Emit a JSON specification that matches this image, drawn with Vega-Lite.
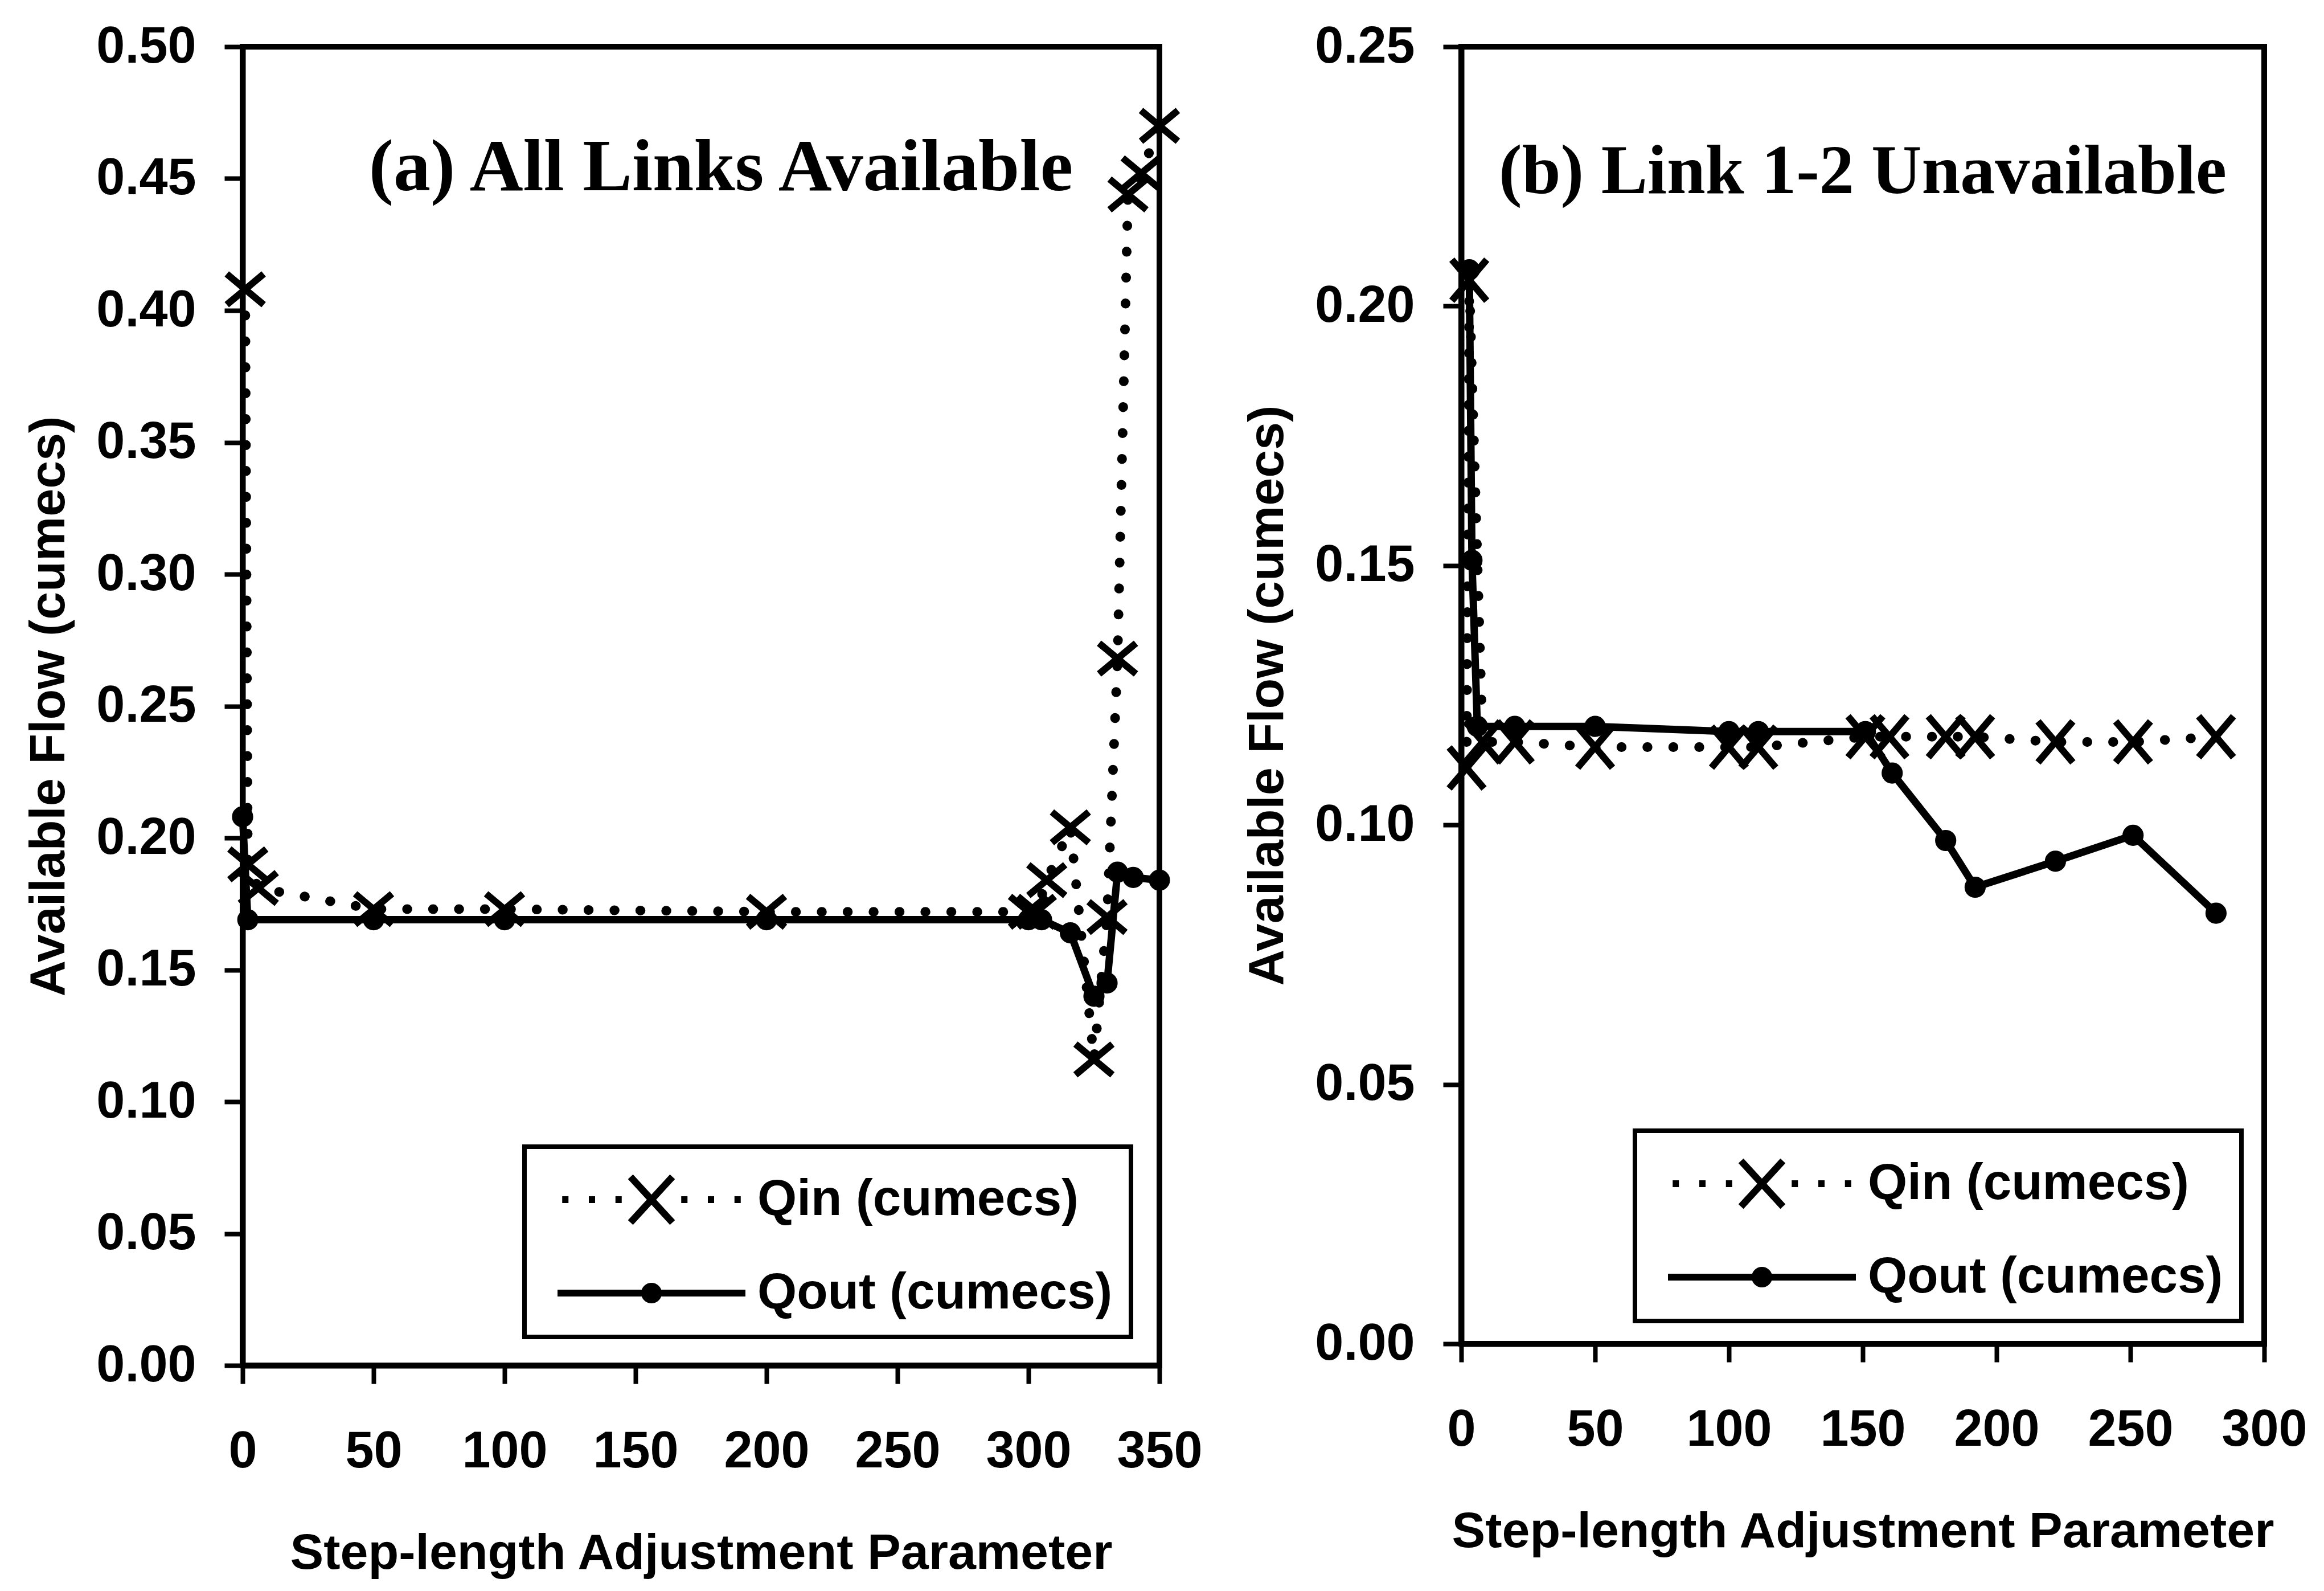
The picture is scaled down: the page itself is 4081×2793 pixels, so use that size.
{
  "$schema": "https://vega.github.io/schema/vega-lite/v6.json",
  "background": "white",
  "padding": {"left": 37, "top": 32, "right": 10, "bottom": 5},
  "spacing": -29,
  "config": {
    "view": {"stroke": "black", "strokeWidth": 10},
    "font": "Liberation Sans",
    "axis": {
      "domainColor": "black", "domainWidth": 10,
      "tickColor": "black", "tickWidth": 8, "tickSize": 32,
      "labelFont": "Liberation Sans", "labelFontWeight": "bold", "labelFontSize": 90, "labelColor": "black", "labelLimit": 0, "labelOverlap": false, "labelFlush": false,
      "titleFont": "Liberation Sans", "titleFontWeight": "bold", "titleFontSize": 88, "titleColor": "black", "titleLimit": 0,
      "grid": false, "labelPadding": 45
    },
    "legend": {"strokeColor": "black", "strokeWidth": 8, "fillColor": "white"}
  },
  "resolve": {"scale": {"shape": "independent"}, "legend": {"shape": "independent"}},
  "datasets": {
    "a": [
      {"step": 1, "flow": 0.408, "series": "Qin (cumecs)"},
      {"step": 2, "flow": 0.190, "series": "Qin (cumecs)"},
      {"step": 6, "flow": 0.181, "series": "Qin (cumecs)"},
      {"step": 50, "flow": 0.173, "series": "Qin (cumecs)"},
      {"step": 100, "flow": 0.173, "series": "Qin (cumecs)"},
      {"step": 200, "flow": 0.172, "series": "Qin (cumecs)"},
      {"step": 300, "flow": 0.172, "series": "Qin (cumecs)"},
      {"step": 303, "flow": 0.172, "series": "Qin (cumecs)"},
      {"step": 307, "flow": 0.184, "series": "Qin (cumecs)"},
      {"step": 316, "flow": 0.204, "series": "Qin (cumecs)"},
      {"step": 325, "flow": 0.116, "series": "Qin (cumecs)"},
      {"step": 330, "flow": 0.170, "series": "Qin (cumecs)"},
      {"step": 334, "flow": 0.268, "series": "Qin (cumecs)"},
      {"step": 338, "flow": 0.444, "series": "Qin (cumecs)"},
      {"step": 343, "flow": 0.452, "series": "Qin (cumecs)"},
      {"step": 350, "flow": 0.470, "series": "Qin (cumecs)"},
      {"step": 0, "flow": 0.208, "series": "Qout (cumecs)"},
      {"step": 2, "flow": 0.169, "series": "Qout (cumecs)"},
      {"step": 50, "flow": 0.169, "series": "Qout (cumecs)"},
      {"step": 100, "flow": 0.169, "series": "Qout (cumecs)"},
      {"step": 200, "flow": 0.169, "series": "Qout (cumecs)"},
      {"step": 300, "flow": 0.169, "series": "Qout (cumecs)"},
      {"step": 305, "flow": 0.169, "series": "Qout (cumecs)"},
      {"step": 316, "flow": 0.164, "series": "Qout (cumecs)"},
      {"step": 325, "flow": 0.140, "series": "Qout (cumecs)"},
      {"step": 330, "flow": 0.145, "series": "Qout (cumecs)"},
      {"step": 334, "flow": 0.187, "series": "Qout (cumecs)"},
      {"step": 340, "flow": 0.185, "series": "Qout (cumecs)"},
      {"step": 350, "flow": 0.184, "series": "Qout (cumecs)"}
    ],
    "b": [
      {"step": 2, "flow": 0.111, "series": "Qin (cumecs)"},
      {"step": 3, "flow": 0.205, "series": "Qin (cumecs)"},
      {"step": 8, "flow": 0.116, "series": "Qin (cumecs)"},
      {"step": 20, "flow": 0.116, "series": "Qin (cumecs)"},
      {"step": 50, "flow": 0.115, "series": "Qin (cumecs)"},
      {"step": 100, "flow": 0.115, "series": "Qin (cumecs)"},
      {"step": 111, "flow": 0.115, "series": "Qin (cumecs)"},
      {"step": 151, "flow": 0.117, "series": "Qin (cumecs)"},
      {"step": 160, "flow": 0.117, "series": "Qin (cumecs)"},
      {"step": 181, "flow": 0.117, "series": "Qin (cumecs)"},
      {"step": 192, "flow": 0.117, "series": "Qin (cumecs)"},
      {"step": 222, "flow": 0.116, "series": "Qin (cumecs)"},
      {"step": 251, "flow": 0.116, "series": "Qin (cumecs)"},
      {"step": 282, "flow": 0.117, "series": "Qin (cumecs)"},
      {"step": 3, "flow": 0.207, "series": "Qout (cumecs)"},
      {"step": 4, "flow": 0.151, "series": "Qout (cumecs)"},
      {"step": 6, "flow": 0.119, "series": "Qout (cumecs)"},
      {"step": 20, "flow": 0.119, "series": "Qout (cumecs)"},
      {"step": 50, "flow": 0.119, "series": "Qout (cumecs)"},
      {"step": 100, "flow": 0.118, "series": "Qout (cumecs)"},
      {"step": 111, "flow": 0.118, "series": "Qout (cumecs)"},
      {"step": 151, "flow": 0.118, "series": "Qout (cumecs)"},
      {"step": 161, "flow": 0.110, "series": "Qout (cumecs)"},
      {"step": 181, "flow": 0.097, "series": "Qout (cumecs)"},
      {"step": 192, "flow": 0.088, "series": "Qout (cumecs)"},
      {"step": 222, "flow": 0.093, "series": "Qout (cumecs)"},
      {"step": 251, "flow": 0.098, "series": "Qout (cumecs)"},
      {"step": 282, "flow": 0.083, "series": "Qout (cumecs)"}
    ]
  },
  "hconcat": [
    {
      "width": 1610,
      "height": 2315,
      "data": {"name": "a"},
      "title": {"text": "(a) All Links Available", "font": "Liberation Serif", "fontWeight": "bold", "fontSize": 130, "color": "black", "anchor": "middle", "frame": "group", "offset": -427, "dx": 35, "baseline": "alphabetic"},
      "encoding": {
        "x": {"field": "step", "type": "quantitative", "scale": {"domain": [0, 350], "nice": false, "zero": false},
              "axis": {"values": [0, 50, 100, 150, 200, 250, 300, 350], "title": "Step-length Adjustment Parameter", "labelPadding": 75, "titlePadding": 90}},
        "y": {"field": "flow", "type": "quantitative", "scale": {"domain": [0, 0.5], "nice": false},
              "axis": {"values": [0, 0.05, 0.1, 0.15, 0.2, 0.25, 0.3, 0.35, 0.4, 0.45, 0.5], "format": ".2f", "title": "Available Flow (cumecs)", "labelPadding": 50, "titlePadding": 96}}
      },
      "resolve": {"scale": {"shape": "independent"}, "legend": {"shape": "independent"}},
      "layer": [
        {"transform": [{"filter": "datum.series === 'Qin (cumecs)'"}],
         "mark": {"type": "line", "color": "black", "strokeWidth": 17, "strokeDash": [0.5, 45], "strokeCap": "round"}},
        {"transform": [{"filter": "datum.series === 'Qout (cumecs)'"}],
         "mark": {"type": "line", "color": "black", "strokeWidth": 13}},
        {"mark": {"type": "point", "filled": true, "color": "black", "stroke": "black", "strokeWidth": 12, "size": 5184, "opacity": 1},
         "encoding": {
           "shape": {"field": "series", "type": "nominal", "legend": null,
             "scale": {"domain": ["Qin (cumecs)", "Qout (cumecs)"], "range": ["M-0.9,-0.75L0.9,0.75M-0.9,0.75L0.9,-0.75", "M0.35,0A0.35,0.35,0,1,1,-0.35,0A0.35,0.35,0,1,1,0.35,0Z"]}
           }
         }},
        {"mark": {"type": "point", "filled": false, "color": "black", "strokeWidth": 12, "size": 12100, "opacity": 0},
         "encoding": {
           "shape": {"field": "series", "type": "nominal",
             "scale": {"domain": ["Qin (cumecs)", "Qout (cumecs)"], "range": ["M-2.85,0L-2.65,0M-2.0,0L-1.8,0M-1.15,0L-0.95,0M0.95,0L1.15,0M1.8,0L2.0,0M2.65,0L2.85,0M-0.67,-0.73L0.67,0.73M-0.67,0.73L0.67,-0.73", "M-3,0L3,0M0.22,0A0.22,0.22,0,1,1,-0.22,0A0.22,0.22,0,1,1,0.22,0ZM0.08,0A0.08,0.08,0,1,1,-0.08,0A0.08,0.08,0,1,1,0.08,0Z"]},
             "legend": {"title": null, "orient": "bottom-right", "offset": 50, "padding": 32,
               "symbolSize": 12100, "symbolStrokeWidth": 12, "symbolOpacity": 1, "symbolStrokeColor": "black",
               "symbolOffset": 130, "labelOffset": 125, "rowPadding": 38,
               "labelFont": "Liberation Sans", "labelFontWeight": "bold", "labelFontSize": 89, "labelColor": "black", "labelLimit": 0}
           }
         }}
      ]
    },
    {
      "width": 1410,
      "height": 2277,
      "data": {"name": "b"},
      "title": {"text": "(b) Link 1-2 Unavailable", "font": "Liberation Serif", "fontWeight": "bold", "fontSize": 122, "color": "black", "anchor": "middle", "frame": "group", "offset": -424, "baseline": "alphabetic"},
      "encoding": {
        "x": {"field": "step", "type": "quantitative", "scale": {"domain": [0, 300], "nice": false, "zero": false},
              "axis": {"values": [0, 50, 100, 150, 200, 250, 300], "title": "Step-length Adjustment Parameter", "labelPadding": 75, "titlePadding": 90}},
        "y": {"field": "flow", "type": "quantitative", "scale": {"domain": [0, 0.25], "nice": false},
              "axis": {"values": [0, 0.05, 0.1, 0.15, 0.2, 0.25], "format": ".2f", "title": "Available Flow (cumecs)", "labelPadding": 50, "titlePadding": 96}}
      },
      "resolve": {"scale": {"shape": "independent"}, "legend": {"shape": "independent"}},
      "layer": [
        {"transform": [{"filter": "datum.series === 'Qin (cumecs)'"}],
         "mark": {"type": "line", "color": "black", "strokeWidth": 17, "strokeDash": [0.5, 45], "strokeCap": "round"}},
        {"transform": [{"filter": "datum.series === 'Qout (cumecs)'"}],
         "mark": {"type": "line", "color": "black", "strokeWidth": 13}},
        {"mark": {"type": "point", "filled": true, "color": "black", "stroke": "black", "strokeWidth": 12, "size": 5184, "opacity": 1},
         "encoding": {
           "shape": {"field": "series", "type": "nominal", "legend": null,
             "scale": {"domain": ["Qin (cumecs)", "Qout (cumecs)"], "range": ["M-0.85,-1L0.85,1M-0.85,1L0.85,-1", "M0.35,0A0.35,0.35,0,1,1,-0.35,0A0.35,0.35,0,1,1,0.35,0Z"]}
           }
         }},
        {"mark": {"type": "point", "filled": false, "color": "black", "strokeWidth": 12, "size": 12100, "opacity": 0},
         "encoding": {
           "shape": {"field": "series", "type": "nominal",
             "scale": {"domain": ["Qin (cumecs)", "Qout (cumecs)"], "range": ["M-2.85,0L-2.65,0M-2.0,0L-1.8,0M-1.15,0L-0.95,0M0.95,0L1.15,0M1.8,0L2.0,0M2.65,0L2.85,0M-0.67,-0.73L0.67,0.73M-0.67,0.73L0.67,-0.73", "M-3,0L3,0M0.22,0A0.22,0.22,0,1,1,-0.22,0A0.22,0.22,0,1,1,0.22,0ZM0.08,0A0.08,0.08,0,1,1,-0.08,0A0.08,0.08,0,1,1,0.08,0Z"]},
             "legend": {"title": null, "orient": "bottom-right", "offset": 40, "padding": 32,
               "symbolSize": 12100, "symbolStrokeWidth": 12, "symbolOpacity": 1, "symbolStrokeColor": "black",
               "symbolOffset": 130, "labelOffset": 125, "rowPadding": 38,
               "labelFont": "Liberation Sans", "labelFontWeight": "bold", "labelFontSize": 89, "labelColor": "black", "labelLimit": 0}
           }
         }}
      ]
    }
  ]
}
